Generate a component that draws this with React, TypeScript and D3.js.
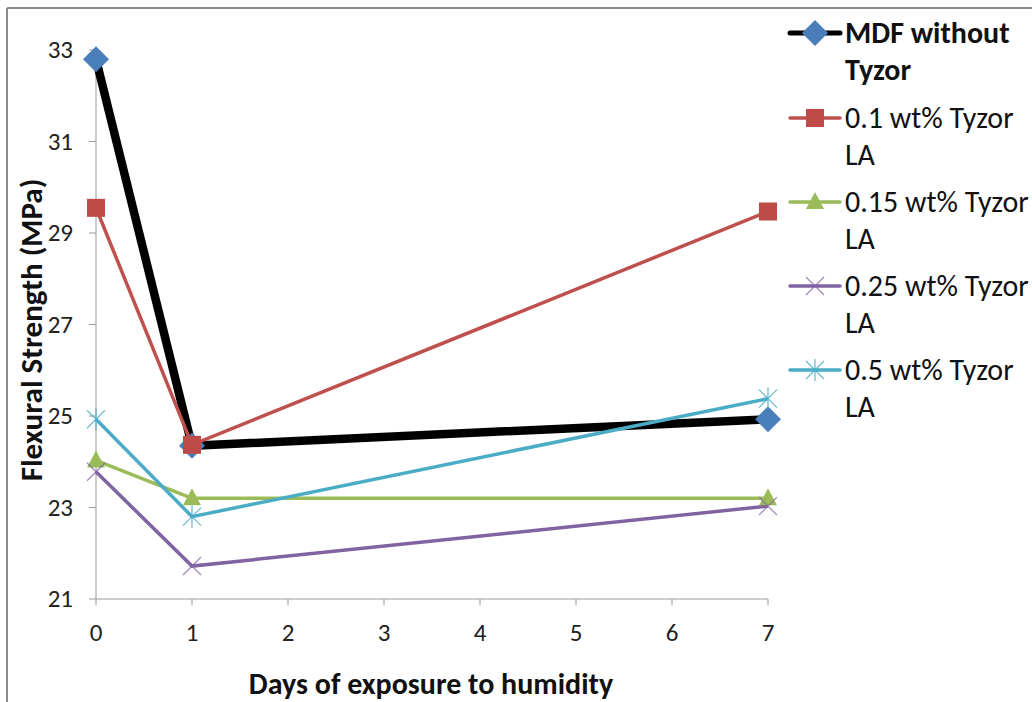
import React from "react";
import * as d3 from "d3";

const days = [0, 1, 7];
const seriesNames = ["MDF without Tyzor", "0.1 wt% Tyzor LA", "0.15 wt% Tyzor LA", "0.25 wt% Tyzor LA", "0.5 wt% Tyzor LA"];
const legendLines = [["MDF without", "Tyzor"], ["0.1 wt% Tyzor", "LA"], ["0.15 wt% Tyzor", "LA"], ["0.25 wt% Tyzor", "LA"], ["0.5 wt% Tyzor", "LA"]];
const mdf = [32.8, 24.35, 24.93];
const tyzor01 = [29.55, 24.37, 29.47];
const tyzor015 = [24.03, 23.2, 23.2];
const tyzor025 = [23.78, 21.72, 23.03];
const tyzor05 = [24.93, 22.8, 25.38];
const xTicks = [0, 1, 2, 3, 4, 5, 6, 7];
const yTicks = [21, 23, 25, 27, 29, 31, 33];

const colors = ["#000000", "#C0504D", "#9BBB59", "#8064A2", "#4BACC6"];
const markerColors = ["#4A7EBB", "#BE4B48", "#9BBB59", "#8064A2", "#4BACC6"];
const widths = [8.5, 3.5, 3.5, 3.5, 3.5];
const markers = ["diamond", "square", "triangle", "x", "star"];

function Marker({ type, x, y, color }: { type: string; x: number; y: number; color: string }) {
  if (type === "diamond") {
    const s = 13;
    return <path d={`M${x},${y - s}L${x + s},${y}L${x},${y + s}L${x - s},${y}Z`} fill={color} />;
  }
  if (type === "square") {
    const s = 9;
    return <rect x={x - s} y={y - s} width={2 * s} height={2 * s} fill={color} />;
  }
  if (type === "triangle") {
    return <path d={`M${x},${y - 10}L${x + 9},${y + 7}L${x - 9},${y + 7}Z`} fill={color} />;
  }
  if (type === "x") {
    const s = 9;
    return (
      <g stroke={color} strokeWidth={1.3} opacity={0.75}>
        <line x1={x - s} y1={y - s} x2={x + s} y2={y + s} />
        <line x1={x - s} y1={y + s} x2={x + s} y2={y - s} />
      </g>
    );
  }
  const s = 9;
  return (
    <g stroke={color} strokeWidth={1.3} opacity={0.8}>
      <line x1={x - s} y1={y - s} x2={x + s} y2={y + s} />
      <line x1={x - s} y1={y + s} x2={x + s} y2={y - s} />
      <line x1={x} y1={y - s - 2} x2={x} y2={y + s + 2} />
    </g>
  );
}

export default function App() {
  const W = 1032, H = 702;
  const x = d3.scaleLinear().domain([0, 7]).range([96, 768]);
  const y = d3.scaleLinear().domain([21, 33]).range([599, 50]);
  const data = [mdf, tyzor01, tyzor015, tyzor025, tyzor05];
  const line = d3.line<[number, number]>().x((d) => x(d[0])).y((d) => y(d[1]));
  const font = "Carlito, Calibri, 'Open Sans', sans-serif";
  const legendY = [33, 118, 202, 286, 370];

  return (
    <svg width={W} height={H} style={{ position: "absolute", left: 0, top: 0, background: "#fff" }} fontFamily={font}>
      <rect x={0} y={0} width={W} height={H} fill="#fff" />
      <line x1={7} y1={8} x2={W} y2={8} stroke="#8c8c8c" strokeWidth={2} />
      <line x1={7} y1={8} x2={7} y2={H} stroke="#8c8c8c" strokeWidth={2} />
      {/* axes */}
      <line x1={x(0)} y1={y(21)} x2={x(7)} y2={y(21)} stroke="#9a9a9a" strokeWidth={1} />
      <line x1={x(0)} y1={y(21)} x2={x(0)} y2={y(33)} stroke="#9a9a9a" strokeWidth={1} />
      {xTicks.map((t) => (
        <g key={"xt" + t}>
          <line x1={x(t)} x2={x(t)} y1={y(21)} y2={y(21) + 6} stroke="#9a9a9a" />
          <text x={x(t)} y={y(21) + 42} textAnchor="middle" fontSize={25} fill="#222">{t}</text>
        </g>
      ))}
      {yTicks.map((t) => (
        <g key={"yt" + t}>
          <line x1={x(0) - 7} x2={x(0)} y1={y(t)} y2={y(t)} stroke="#9a9a9a" />
          <text x={x(0) - 23} y={y(t) + 8} textAnchor="end" fontSize={25} fill="#222">{t}</text>
        </g>
      ))}
      <text x={431} y={694} textAnchor="middle" fontSize={30} fontWeight="bold" fill="#111">Days of exposure to humidity</text>
      <text transform={`translate(42,330) rotate(-90)`} textAnchor="middle" fontSize={31} fontWeight="bold" fill="#111">Flexural Strength (MPa)</text>
      {/* series */}
      {data.map((vals, i) => {
        const pts = days.map((d, j) => [d, vals[j]] as [number, number]);
        return (
          <g key={"s" + i}>
            <path d={line(pts) || ""} fill="none" stroke={colors[i]} strokeWidth={widths[i]} strokeLinejoin="miter" />
          </g>
        );
      })}
      {data.map((vals, i) => (
        <g key={"m" + i}>
          {days.map((d, j) => (
            <Marker key={j} type={markers[i]} x={x(d)} y={y(vals[j])} color={markerColors[i]} />
          ))}
        </g>
      ))}
      {/* legend */}
      {seriesNames.map((name, i) => (
        <g key={"l" + i}>
          <line x1={790} x2={840} y1={legendY[i]} y2={legendY[i]} stroke={colors[i]} strokeWidth={i === 0 ? 5 : 3.5} strokeLinecap="round" />
          <Marker type={markers[i]} x={815} y={legendY[i]} color={markerColors[i]} />
          <text x={845} y={legendY[i] + 10} fontSize={30} fontWeight={i === 0 ? "bold" : "normal"} fill="#111">
            {legendLines[i][0]}
          </text>
          <text x={845} y={legendY[i] + 47} fontSize={30} fontWeight={i === 0 ? "bold" : "normal"} fill="#111">
            {legendLines[i][1]}
          </text>
        </g>
      ))}
    </svg>
  );
}
